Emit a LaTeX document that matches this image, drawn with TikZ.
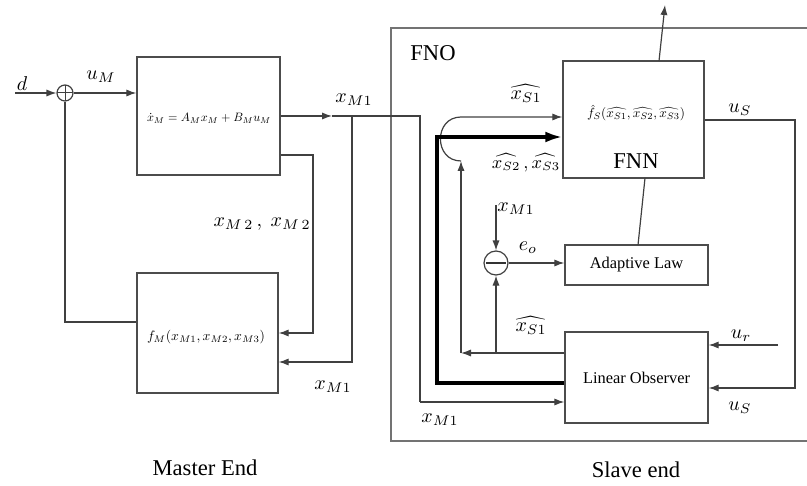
\documentclass[tikz,border=0pt]{standalone}
\usepackage{graphicx}
\usepackage{fontspec}
\setmainfont{Liberation Serif}
\usetikzlibrary{arrows.meta,calc}
\begin{document}
\begin{tikzpicture}[x=0.5pt,y=-0.5pt,
  ln/.style={draw=black!75, line width=0.6pt},
  arr/.style={ln, -{Latex[length=5pt,width=3.6pt]}},
  thickarr/.style={draw=black, line width=1.6pt, -{Latex[length=8.5pt,width=5.5pt]}},
  blk/.style={draw=black!70, line width=0.7pt, rectangle, inner sep=0pt},
  lbl/.style={font=\fontsize{10}{12}\selectfont, inner sep=0pt},
  big/.style={font=\fontsize{11.3}{13}\selectfont, inner sep=0pt},
  small/.style={font=\fontsize{8.2}{10}\selectfont, inner sep=0pt},
  frame/.style={draw=black!55, line width=1pt},
  sumc/.style={circle, draw=black!75, line width=0.6pt, inner sep=0pt}]
\useasboundingbox (0,0) rectangle (807,486);

% blocks
\node[blk, minimum width=71.5pt, minimum height=59pt] (bm) at (208.5,116) {};
\node[inner sep=0pt] (bmt) at (209,118) {\resizebox{62pt}{!}{$\dot{x}_M = A_M x_M + B_M u_M$}};
\node[blk, minimum width=70.5pt, minimum height=60pt] (bf) at (207.5,333) {};
\node[inner sep=0pt] (bft) at (206,337) {\resizebox{59pt}{!}{$f_M(x_{M1},x_{M2},x_{M3})$}};
\node[blk, minimum width=70.5pt, minimum height=58.5pt] (fnn) at (633.5,119.5) {};
\node[inner sep=0pt] (fnnf) at (636,113) {\resizebox{49pt}{!}{$\hat{f}_S(\widehat{x_{S1}},\widehat{x_{S2}},\widehat{x_{S3}})$}};
\node[big] (fnnl) at (636,161) {FNN};
\node[blk, minimum width=71.5pt, minimum height=20pt, small] (al) at (636.5,265) {Adaptive Law};
\node[blk, minimum width=71.5pt, minimum height=45.5pt, small] (lo) at (636.5,377.5) {Linear Observer};
\node[sumc, minimum size=8pt, path picture={\draw[black!75, line width=0.5pt] (path picture bounding box.north) -- (path picture bounding box.south) (path picture bounding box.west) -- (path picture bounding box.east);}] (sum) at (65,93) {};
\node[sumc, minimum size=12pt, path picture={\draw[black!80, line width=1.2pt] ([xshift=1pt]path picture bounding box.west) -- ([xshift=-1pt]path picture bounding box.east);}] (sub) at (496,263) {};

% frame
\draw[frame] (807,28) -- (391,28) -- (391,441) -- (807,441);
\node[big] (fno) at (433,53) {FNO};

% master side
\coordinate (din) at (15,93);
\draw[arr] (din) -- (sum);
\draw[arr] (sum) -- (sum -| bm.west);
\coordinate (xa) at (332,116);
\coordinate (xj) at (352,116);
\coordinate (xc) at (420,116);
\coordinate (xd) at (420,402);
\coordinate (xk) at (352,362);
\draw[arr] (bm.east) -- (xa);
\draw[ln] (xa) -- (xc) -- (xd);
\draw[arr] (xd) -- (xd -| lo.west);
\draw[arr] (xj) -- (xk) -- (xk -| bf.east);
\coordinate (m2) at (313,155);
\coordinate (m3) at (313,333);
\draw[arr] (m2 -| bm.east) -- (m2) -- (m3) -- (m3 -| bf.east);
\coordinate (fb) at (65,322);
\draw[ln] (fb -| bf.west) -- (fb) -- (sum.south);

% slave side
\coordinate (fu) at (659,61);
\coordinate (up) at (665,5);
\draw[arr] (fu) -- (up);
\coordinate (fd) at (645,178);
\coordinate (ad) at (638,245);
\draw[ln] (fd) -- (ad);
\coordinate (us1) at (795,120);
\coordinate (us2) at (795,388);
\draw[arr] (us1 -| fnn.east) -- (us1) -- (us2) -- (us2 -| lo.east);
\coordinate (ur) at (778,345);
\draw[arr] (ur) -- (ur -| lo.east);
\coordinate (xs) at (496,205);
\draw[arr] (xs) -- (sub.north);
\draw[arr] (sub.east) -- (sub.east -| al.west);
\coordinate (h1) at (461,353);
\coordinate (h2) at (461,161);
\coordinate (h3) at (461,117);
\coordinate (hb) at (496,353);
\draw[arr] (h1 -| lo.west) -- (h1);
\draw[arr] (h1) -- (h2);
\draw[arr] (h2) to[out=180,in=180,looseness=1.6] (h3) -- (h3 -| fnn.west);
\draw[arr] (hb) -- (sub.south);
\coordinate (t1) at (437,383);
\coordinate (t2) at (437,137);
\draw[thickarr] (t1 -| lo.west) -- (t1) -- (t2) -- (t2 -| fnn.west);

% labels
\node[lbl] at (22,84) {$d$};
\node[lbl] at (101,77) {$u_M$};
\node[lbl] at (354,100) {$x_{M1}$};
\node[lbl] at (262,224) {$x_{M\,2}\,,\ x_{M\,2}$};
\node[lbl] at (333,387) {$x_{M1}$};
\node[lbl] at (526,94) {$\widehat{x_{S1}}$};
\node[font=\fontsize{8.6}{10}\selectfont, inner sep=0pt] at (526,163) {$\widehat{x_{S2}}\,,\widehat{x_{S3}}$};
\node[lbl] at (516,209) {$x_{M1}$};
\node[lbl] at (528,248) {$e_o$};
\node[lbl] at (531,325) {$\widehat{x_{S1}}$};
\node[lbl] at (740,110) {$u_S$};
\node[lbl] at (741,336) {$u_r$};
\node[lbl] at (740,408) {$u_S$};
\node[lbl] at (440,420) {$x_{M1}$};
\node[big] at (205,468) {Master End};
\node[big] at (636,470) {Slave end};
\end{tikzpicture}
\end{document}
